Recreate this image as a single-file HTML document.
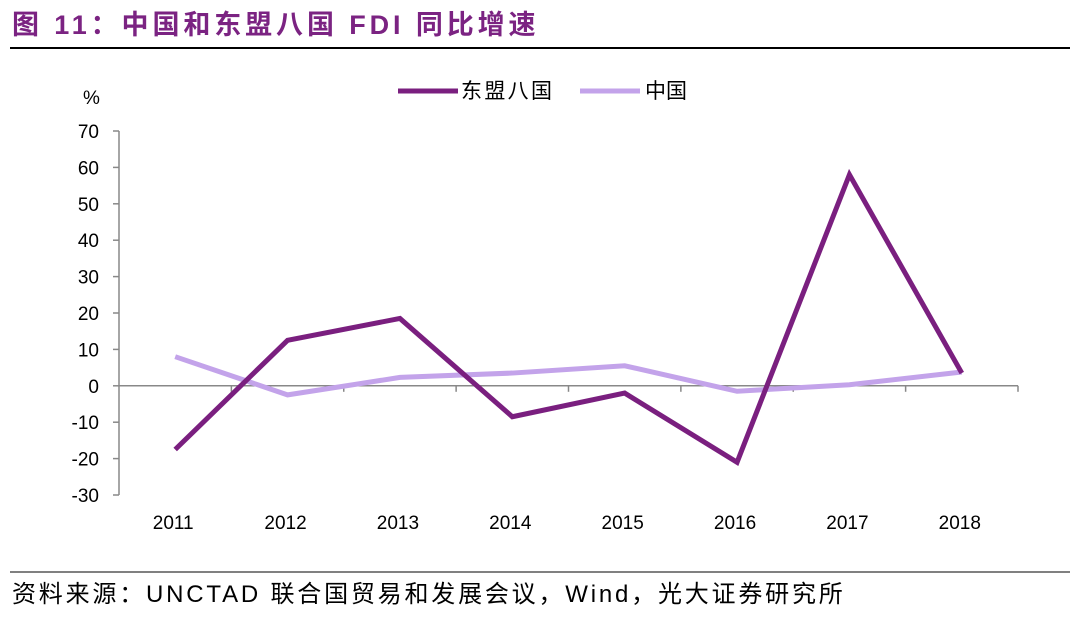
<!DOCTYPE html>
<html><head><meta charset="utf-8"><style>
body{margin:0;background:#fff;width:1080px;height:616px;overflow:hidden;font-family:"Liberation Sans","Noto Sans CJK SC",sans-serif}
</style></head><body>
<svg width="1080" height="616" xmlns="http://www.w3.org/2000/svg" font-family="Liberation Sans, Noto Sans CJK SC, sans-serif">
<text x="12" y="34" font-size="27" font-weight="bold" fill="#7b2382" letter-spacing="3.9">图 11：中国和东盟八国 FDI 同比增速</text>
<line x1="10" y1="48" x2="1070" y2="48" stroke="#000" stroke-width="2"/>
<g id="chart"></g>
<text x="83" y="104" font-size="19" fill="#000">%</text>
<g>
<line x1="398" y1="91" x2="458" y2="91" stroke="#7a1f7f" stroke-width="5"/>
<text x="461" y="98" font-size="21" textLength="91" lengthAdjust="spacing">东盟八国</text>
<line x1="580" y1="91" x2="640" y2="91" stroke="#c3a3ea" stroke-width="5"/>
<text x="645" y="98" font-size="21">中国</text>
</g>
<line x1="10" y1="572" x2="1070" y2="572" stroke="#000" stroke-width="1"/>
<text x="12" y="602" font-size="24" letter-spacing="2.8">资料来源：UNCTAD 联合国贸易和发展会议，Wind，光大证券研究所</text>
</svg>
<script>
const categories=["2011","2012","2013","2014","2015","2016","2017","2018"];
const aseanValues=[-17.5,12.5,18.5,-8.5,-2,-21,58,3.5];
const chinaValues=[8,-2.5,2.3,3.5,5.5,-1.5,0.3,3.8];
const yTicks=[70,60,50,40,30,20,10,0,-10,-20,-30];
const NS="http://www.w3.org/2000/svg";
const g=document.getElementById('chart');
const x0=119,x1=1018,yTop=131,yBot=495,yMin=-30,yMax=70;
const yS=v=>yTop+(yMax-v)/(yMax-yMin)*(yBot-yTop);
const step=(x1-x0)/categories.length;
const xS=i=>x0+step*(i+0.5);
function el(t,a){const e=document.createElementNS(NS,t);for(const k in a)e.setAttribute(k,a[k]);g.appendChild(e);return e;}
let ax=el('line',{x1:x0,y1:yTop,x2:x0,y2:yBot,stroke:'#888','stroke-width':1.5});


yTicks.forEach(v=>{
 const t=el('line',{x1:x0-6,y1:yS(v),x2:x0,y2:yS(v),stroke:'#888','stroke-width':1.5});
 
 
 const l=el('text',{x:x0-20,y:yS(v)+7,'font-size':19,'text-anchor':'end'});l.textContent=v;
 
 
});
let xa=el('line',{x1:x0,y1:yS(0),x2:x1,y2:yS(0),stroke:'#888','stroke-width':1.5});


categories.forEach((c,i)=>{
 const t=el('line',{x1:x0+step*(i+1),y1:yS(0),x2:x0+step*(i+1),y2:yS(0)+6,stroke:'#888','stroke-width':1.5});
 
 
 const l=el('text',{x:xS(i)-2,y:529,'font-size':19,'text-anchor':'middle'});l.textContent=c;
 
 
});
function line(vals,color,name){
 const p=el('polyline',{points:vals.map((v,i)=>xS(i)+','+yS(v)).join(' '),fill:'none',stroke:color,'stroke-width':5,'stroke-linejoin':'miter'});
 
 
}
line(chinaValues,'#c3a3ea','china-line');
line(aseanValues,'#7a1f7f','asean-line');
</script>
</body></html>
